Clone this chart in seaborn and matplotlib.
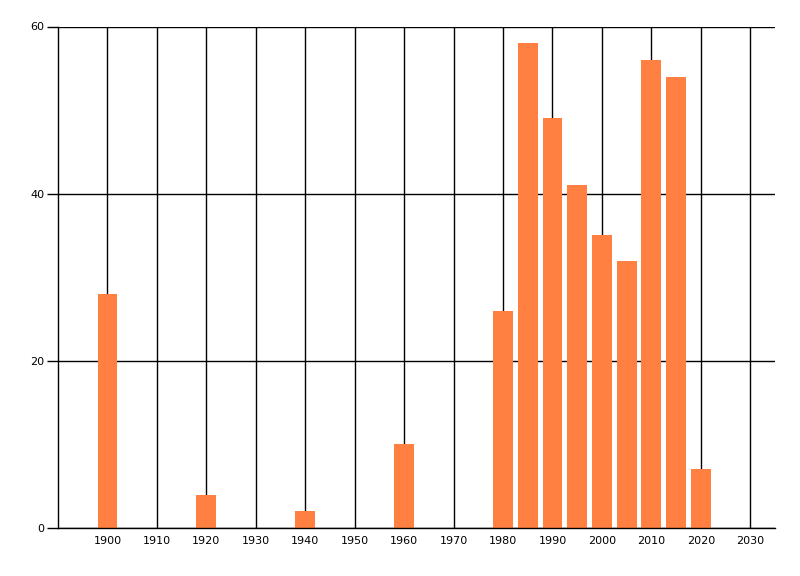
import matplotlib
matplotlib.use("Agg")
import matplotlib.pyplot as plt
import seaborn as sns
import pandas as pd

years = [1900, 1920, 1940, 1960, 1980, 1985, 1990, 1995, 2000, 2005, 2010, 2015, 2020]
values = [28, 4, 2, 10, 26, 58, 49, 41, 35, 32, 56, 54, 7]
x_ticks = list(range(1900, 2031, 10))
y_ticks = [0, 20, 40, 60]

sns.set_style("white")
plt.rcParams['font.family'] = ['DejaVu Sans']

df = pd.DataFrame({"year": years, "value": values})

fig = plt.figure(figsize=(8, 5.76), dpi=100)
ax = fig.add_axes([58/800, 48/576, (775-58)/800, (528-26.5)/576])
sns.barplot(data=df, x="year", y="value", native_scale=True, width=0.8,
            color="#FF8040", saturation=1, ax=ax, zorder=3, linewidth=0,
            edgecolor="none")

ax.set_xlim(1890, 2035)
ax.set_ylim(0, 60)
ax.set_xticks(x_ticks)
ax.set_xticklabels([str(t) for t in x_ticks])
ax.set_yticks(y_ticks)
ax.set_yticklabels([str(t) for t in y_ticks])
ax.set_xlabel("")
ax.set_ylabel("")
ax.grid(True, color="black", linewidth=1)
ax.set_axisbelow(True)
for s in ["top", "right"]:
    ax.spines[s].set_visible(False)
for s in ["left", "bottom"]:
    ax.spines[s].set_color("black")
    ax.spines[s].set_linewidth(1)
    ax.spines[s].set_zorder(4)
ax.tick_params(axis="y", length=8, width=1, color="black", labelsize=8, pad=2,
               left=True, labelcolor="black")
ax.tick_params(axis="x", length=0, labelsize=8, pad=6, labelcolor="black")

fig.savefig("out.png", dpi=100)
